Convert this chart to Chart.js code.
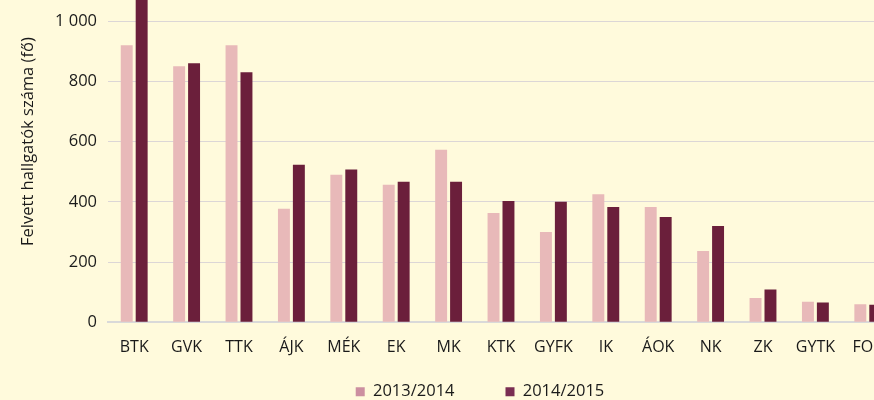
<!DOCTYPE html>
<html>
<head>
<meta charset="utf-8">
<script src="https://cdn.jsdelivr.net/npm/chart.js@4"></script>
<style>
  html, body { margin: 0; padding: 0; background: #fffadc; overflow: hidden; }
  #wrap { position: absolute; left: 0; top: -60px; width: 1010px; height: 492px; }
</style>
</head>
<body>
<div id="wrap"><canvas id="myChart"></canvas></div>
<script>
const faculties = ["BTK", "GVK", "TTK", "ÁJK", "MÉK", "EK", "MK", "KTK", "GYFK", "IK", "ÁOK", "NK", "ZK", "GYTK", "FOK"];
const year2013 = [920, 850, 920, 377, 490, 457, 573, 363, 300, 425, 383, 237, 81, 68, 60];
const year2014 = [1110, 860, 830, 523, 507, 467, 467, 403, 400, 383, 350, 320, 109, 66, 58];

const ctx = document.getElementById("myChart").getContext("2d");
const myChart = new Chart(ctx, {
  type: "bar",
  data: {
    labels: faculties,
    datasets: [
      {
        label: "2013/2014",
        data: year2013,
        backgroundColor: "#e8b9b9",
        legendColor: "#cc8fa0",
      },
      {
        label: "2014/2015",
        data: year2014,
        backgroundColor: "#6b1f3b",
        legendColor: "#7a2d52",
      },
    ],
  },
  options: {
    responsive: true,
    maintainAspectRatio: false,
    animation: false,
    categoryPercentage: 0.57,
    barPercentage: 0.8,
    layout: { padding: { left: 18, right: 68, top: 0, bottom: 22 } },
    plugins: {
      tooltip: { enabled: false },
      legend: {
        position: "bottom",
        labels: {
          boxWidth: 9,
          boxHeight: 9,
          padding: 18,
          color: "#1a1a1a",
          font: { family: "Open Sans", size: 16.5 },
          generateLabels: function (chart) {
            return chart.data.datasets.map((ds, i) => ({
              // extra em spaces widen the gap between the two entries
              text: i === 0 ? ds.label + "\u2003\u2003" : ds.label,
              fillStyle: ds.legendColor,
              strokeStyle: ds.legendColor,
              lineWidth: 0,
              datasetIndex: i,
              fontColor: "#1a1a1a",
            }));
          },
        },
      },
    },
    scales: {
      x: {
        grid: { display: false },
        border: { color: "#d9d9d9", width: 2 },
        ticks: {
          color: "#1a1a1a",
          padding: 8,
          maxRotation: 0,
          autoSkip: false,
          font: { family: "Open Sans", size: 16 },
        },
      },
      y: {
        min: 0,
        max: 1200,
        afterFit: function (scale) {
          scale.width = 90;
        },
        grid: { color: "#dcd6d6", lineWidth: 1, drawTicks: false },
        border: { display: false },
        ticks: {
          stepSize: 200,
          color: "#1a1a1a",
          padding: 11,
          font: { family: "Open Sans", size: 16.5 },
          callback: function (value) {
            return value >= 1000 ? Math.floor(value / 1000) + " " + String(value % 1000).padStart(3, "0") : value;
          },
        },
        title: {
          display: true,
          text: "Felvett hallgatók száma (fő)",
          color: "#1a1a1a",
          font: { family: "Open Sans", size: 16.5 },
          padding: 0,
        },
      },
      // empty right-hand axis, only reserves room so the legend sits where it should
      yRight: {
        position: "right",
        grid: { display: false },
        border: { display: false },
        ticks: { display: false },
        afterFit: function (scale) {
          scale.width = 48;
        },
      },
    },
  },
});
</script>
</body>
</html>
